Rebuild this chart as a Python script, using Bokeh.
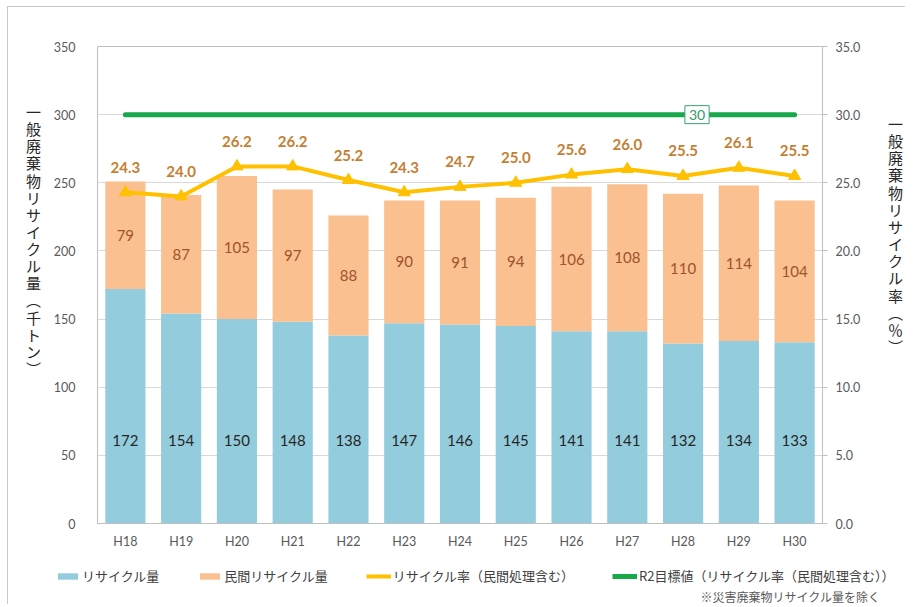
from bokeh.plotting import figure
from bokeh.layouts import row, column
from bokeh.models import (Range1d, LinearAxis, FactorRange, ColumnDataSource, LabelSet,
                          Label, Legend, LegendItem, NumeralTickFormatter, FixedTicker)
from bokeh.core.properties import value
from bokeh.embed import file_html
from bokeh.resources import INLINE

years = ["H18", "H19", "H20", "H21", "H22", "H23", "H24", "H25", "H26", "H27", "H28", "H29", "H30"]
recycle = [172, 154, 150, 148, 138, 147, 146, 145, 141, 141, 132, 134, 133]
private = [79, 87, 105, 97, 88, 90, 91, 94, 106, 108, 110, 114, 104]
rate = [24.3, 24.0, 26.2, 26.2, 25.2, 24.3, 24.7, 25.0, 25.6, 26.0, 25.5, 26.1, 25.5]
target = [30] * len(years)
left_ticks = [0, 50, 100, 150, 200, 250, 300, 350]
right_ticks = [0, 5, 10, 15, 20, 25, 30, 35]

left_title = "一般廃棄物リサイクル量︵千トン︶"
right_title = "一般廃棄物リサイクル率︵％︶"
legend_labels = ["リサイクル量", "民間リサイクル量", "リサイクル率（民間処理含む）",
                 "R2目標値（リサイクル率（民間処理含む））"]
footnote = "※災害廃棄物リサイクル量を除く"

BLUE = "#93CDDD"
ORANGE = "#FAC08F"
YELLOW = "#FFC000"
GREEN = "#16A84B"
GRAY_TXT = "#595959"
TITLE_TXT = "#262626"
NUM_FONT = "Lato"
JP_FONT = "Noto Sans CJK JP"

src = ColumnDataSource(dict(
    year=years, recycle=recycle, private=private, rate=rate, target=target,
    recycle_txt=[str(v) for v in recycle],
    private_txt=[str(v) for v in private],
    rate_txt=[f"{v:.1f}" for v in rate],
    recycle_y=[61] * len(years),
    private_y=[r + q / 2 for r, q in zip(recycle, private)],
))

TOP_H = 549


def blank_fig(w, h):
    f = figure(width=w, height=h, x_range=Range1d(0, 1), y_range=Range1d(0, 1),
               output_backend="svg", toolbar_location=None, title=None,
               x_axis_location=None, y_axis_location=None,
               min_border_left=0, min_border_right=0, min_border_top=0, min_border_bottom=0)
    f.grid.visible = False
    f.outline_line_color = None
    return f


# ---------- main chart ----------
p = figure(x_range=FactorRange(*years), y_range=Range1d(0, 350),
           width=830, height=TOP_H, output_backend="svg", toolbar_location=None,
           min_border_left=47, min_border_right=58, min_border_top=39, min_border_bottom=33)
p.extra_y_ranges = {"rate": Range1d(0, 35)}

bars = p.vbar_stack(["recycle", "private"], x="year", width=0.72, color=[BLUE, ORANGE],
                    line_color=None, source=src)
p.line(x="year", y="target", y_range_name="rate", line_width=5, color=GREEN,
       line_cap="round", source=src)
p.line(x="year", y="rate", y_range_name="rate", line_width=4, color=YELLOW, source=src)
p.scatter(x="year", y="rate", y_range_name="rate", marker="triangle", size=12,
          fill_color=YELLOW, line_color=YELLOW, source=src)

p.add_layout(LabelSet(x="year", y="recycle_y", text="recycle_txt", source=src,
                      text_align="center", text_baseline="middle", text_font=value(NUM_FONT),
                      text_font_size="15px", text_color="#262626"))
p.add_layout(LabelSet(x="year", y="private_y", text="private_txt", source=src,
                      text_align="center", text_baseline="middle", text_font=value(NUM_FONT),
                      text_font_size="15px", text_color="#A0522D"))
p.add_layout(LabelSet(x="year", y="rate", y_range_name="rate", text="rate_txt", source=src,
                      y_offset=25, text_align="center", text_baseline="middle",
                      text_font=value(NUM_FONT), text_font_size="15px", text_font_style="bold",
                      text_color="#C47F33"))
p.add_layout(Label(x=10.75, y=target[0], y_range_name="rate", text=str(target[0]),
                   text_align="center", text_baseline="middle", text_font=NUM_FONT,
                   text_font_size="14px", text_color="#2E9A68", padding=4,
                   background_fill_color="white", border_line_color="#3AA56A",
                   border_line_width=1))

p.xgrid.grid_line_color = None
p.ygrid.ticker = FixedTicker(ticks=left_ticks)
p.ygrid.grid_line_color = "#D9D9D9"
p.outline_line_color = "#BFBFBF"

ya = p.yaxis[0]
ya.ticker = FixedTicker(ticks=left_ticks)
ya.major_tick_out = 0
ya.major_tick_in = 0
ya.minor_tick_out = 0
ya.minor_tick_in = 0
ya.axis_line_color = None
ya.major_label_standoff = 22
ya.major_label_text_font = NUM_FONT
ya.major_label_text_font_size = "12.5px"
ya.major_label_text_color = GRAY_TXT

ra = LinearAxis(y_range_name="rate", ticker=FixedTicker(ticks=right_ticks),
                formatter=NumeralTickFormatter(format="0.0"))
ra.major_tick_out = 5
ra.major_tick_in = 0
ra.minor_tick_out = 0
ra.minor_tick_in = 0
ra.axis_line_color = "#BFBFBF"
ra.major_tick_line_color = "#BFBFBF"
ra.major_label_standoff = 8
ra.major_label_text_font = NUM_FONT
ra.major_label_text_font_size = "12.5px"
ra.major_label_text_color = GRAY_TXT
p.add_layout(ra, "right")

xa = p.xaxis[0]
xa.major_tick_out = 0
xa.major_tick_in = 0
xa.axis_line_color = "#BFBFBF"
xa.major_label_standoff = 10
xa.major_label_text_font = NUM_FONT
xa.major_label_text_font_size = "12.5px"
xa.major_label_text_color = GRAY_TXT

# ---------- vertical titles (upright characters) ----------
lf = blank_fig(42, TOP_H)
for i, ch in enumerate(left_title):
    lf.add_layout(Label(x=25, y=TOP_H - 137 - 17.13 * i, x_units="screen", y_units="screen",
                        text=ch, text_align="center", text_baseline="middle",
                        text_font=JP_FONT, text_font_size="15px", text_color=TITLE_TXT))

rf = blank_fig(25, TOP_H)
for i, ch in enumerate(right_title):
    rf.add_layout(Label(x=15, y=TOP_H - 149 - 17.15 * i, x_units="screen", y_units="screen",
                        text=ch, text_align="center", text_baseline="middle",
                        text_font=JP_FONT, text_font_size="15px", text_color=TITLE_TXT))

# ---------- legend + footnote ----------
BOT_H = 48
bf = blank_fig(897, BOT_H)
# legend-only renderers: their single point lies outside this strip's ranges
off = [-5]
r_blue = bf.vbar(x=off, top=off, width=0.5, fill_color=BLUE, line_color=None)
r_orange = bf.vbar(x=off, top=off, width=0.5, fill_color=ORANGE, line_color=None)
r_rate_l = bf.line(x=off, y=off, line_width=4, color=YELLOW)
r_rate_m = bf.scatter(x=off, y=off, marker="triangle", size=11, fill_color=YELLOW,
                      line_color=YELLOW)
r_target = bf.line(x=off, y=off, line_width=5, color=GREEN)

legend = Legend(items=[
    LegendItem(label=legend_labels[0], renderers=[r_blue]),
    LegendItem(label=legend_labels[1], renderers=[r_orange]),
    LegendItem(label=legend_labels[2], renderers=[r_rate_l, r_rate_m]),
    LegendItem(label=legend_labels[3], renderers=[r_target]),
], orientation="horizontal", location=(47, 19), glyph_width=25, glyph_height=8,
    label_text_font=JP_FONT, label_text_font_size="13px", label_text_color="#404040",
    spacing=38, label_standoff=2, padding=0, margin=0, border_line_alpha=0,
    background_fill_alpha=0, label_height=16)
bf.add_layout(legend)
bf.add_layout(Label(x=872, y=8, x_units="screen", y_units="screen", text=footnote,
                    text_align="right", text_baseline="middle", text_font=JP_FONT,
                    text_font_size="12px", text_color=GRAY_TXT))

layout = column(row(lf, p, rf), bf)
layout.styles = {"margin-left": "7px", "margin-top": "6px",
                 "border-left": "1px solid #c8c8c8", "border-top": "1px solid #c8c8c8"}

open("out.html", "w").write(file_html(layout, INLINE))
